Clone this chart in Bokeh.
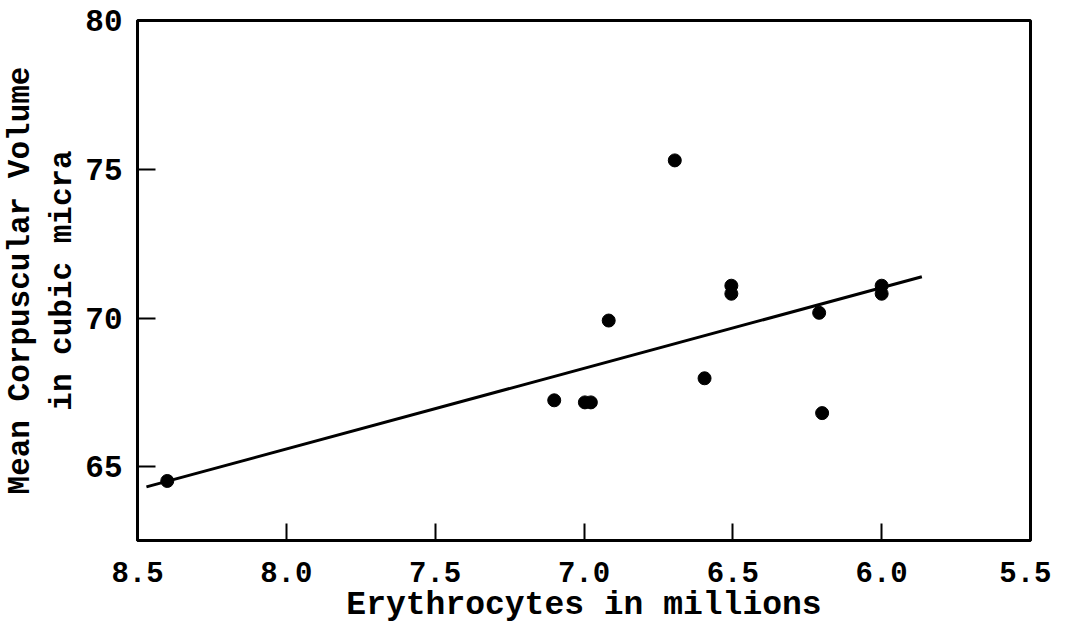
from bokeh.plotting import figure
from bokeh.models import Range1d, FixedTicker, PrintfTickFormatter
from bokeh.embed import file_html
from bokeh.resources import INLINE

# Data
erythrocytes = [8.40, 7.10, 6.997, 6.977, 6.917, 6.595, 6.695, 6.505, 6.505, 6.21, 6.20, 6.00, 6.00]
mcv = [64.53, 67.24, 67.17, 67.17, 69.92, 67.98, 75.30, 71.09, 70.82, 70.18, 66.81, 71.09, 70.82]

fit_x = [8.47, 5.865]
fit_y = [64.33, 71.39]

x_ticks = [8.5, 8.0, 7.5, 7.0, 6.5, 6.0, 5.5]
y_ticks = [65, 70, 75, 80]

FONT = "Liberation Mono"

p = figure(width=1051, height=626, output_backend="svg", toolbar_location=None,
           x_range=Range1d(8.5, 5.5), y_range=Range1d(62.53, 80),
           min_border_left=131, min_border_right=21, min_border_top=20, min_border_bottom=83)

p.background_fill_color = "white"
p.border_fill_color = "white"
p.outline_line_color = "black"
p.outline_line_width = 3
p.xgrid.visible = False
p.ygrid.visible = False

p.line(fit_x, fit_y, line_color="black", line_width=3)
p.scatter(erythrocytes, mcv, size=13, fill_color="black", line_color="black")

xa = p.xaxis[0]
xa.ticker = FixedTicker(ticks=x_ticks)
xa.formatter = PrintfTickFormatter(format="%.1f")
xa.axis_label = "Erythrocytes in millions"
xa.major_tick_in = 17
xa.major_tick_out = 0
xa.minor_tick_in = 0
xa.minor_tick_out = 0
xa.major_tick_line_width = 2
xa.axis_line_width = 3
xa.major_label_standoff = 21
xa.axis_label_standoff = 2
xa.major_label_text_font = FONT
xa.major_label_text_font_size = "29px"
xa.major_label_text_font_style = "bold"
xa.major_label_text_color = "black"
xa.axis_label_text_font = FONT
xa.axis_label_text_font_size = "33px"
xa.axis_label_text_font_style = "bold"
xa.axis_label_text_color = "black"

ya = p.yaxis[0]
ya.ticker = FixedTicker(ticks=y_ticks)
ya.axis_label = "Mean Corpuscular Volume\nin cubic micra"
ya.major_tick_in = 18
ya.major_tick_out = 0
ya.minor_tick_in = 0
ya.minor_tick_out = 0
ya.major_tick_line_width = 2
ya.axis_line_width = 3
ya.major_label_standoff = 15
ya.axis_label_standoff = 2
ya.major_label_orientation = "horizontal"
ya.major_label_text_font = FONT
ya.major_label_text_font_size = "31px"
ya.major_label_text_font_style = "bold"
ya.major_label_text_color = "black"
ya.axis_label_text_font = FONT
ya.axis_label_text_font_size = "31px"
ya.axis_label_text_font_style = "bold"
ya.axis_label_text_color = "black"

open("out.html", "w").write(file_html(p, INLINE))
